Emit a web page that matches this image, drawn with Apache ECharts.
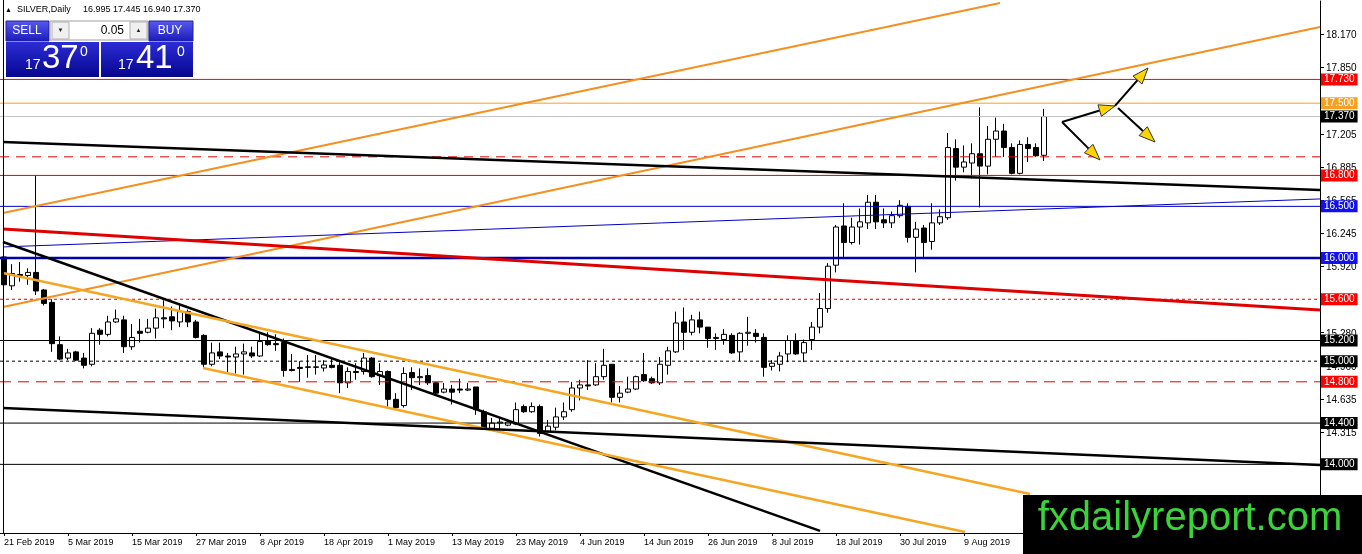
<!DOCTYPE html>
<html><head><meta charset="utf-8">
<script src="https://cdn.jsdelivr.net/npm/echarts@6/dist/echarts.min.js"></script>
<style>html,body{margin:0;padding:0;background:#fff}#c{width:1362px;height:554px}</style>
</head><body><div id="c"></div>
<script>
// ---- candle data (SILVER, Daily) ----
const opens = [
16.01,15.73,15.84,15.83,15.86,15.69,15.57,15.16,15.03,15.09,
15.03,14.97,15.30,15.26,15.38,15.40,15.14,15.29,15.28,15.32,
15.42,15.43,15.38,15.48,15.38,15.25,14.97,15.09,15.05,15.04,
15.07,15.08,15.05,15.20,15.17,15.18,14.92,14.94,14.945,14.94,
14.934,14.96,14.96,14.79,14.90,14.90,15.03,14.86,14.90,14.63,
14.57,14.89,14.84,14.86,14.79,14.70,14.73,14.73,14.72,14.75,
14.51,14.35,14.40,14.38,14.39,14.56,14.51,14.56,14.32,14.36,
14.46,14.53,14.74,14.77,14.77,14.85,14.97,14.65,14.70,14.73,
14.87,14.83,14.79,14.96,15.09,15.38,15.28,15.40,15.33,15.22,
15.21,15.25,15.09,15.27,15.27,15.23,14.95,14.97,15.07,15.20,
15.08,15.21,15.33,15.51,15.93,16.31,16.15,16.30,16.34,16.54,
16.37,16.34,16.41,16.50,16.20,16.29,16.16,16.34,16.39,17.06,
16.88,16.92,17.01,16.89,17.15,17.23,17.07,16.82,17.10,17.07,
16.995];
const highs = [
16.03,15.94,15.96,15.90,16.80,15.70,15.60,15.24,15.12,15.10,
15.08,15.32,15.32,15.44,15.50,15.44,15.36,15.41,15.41,15.51,
15.59,15.53,15.56,15.50,15.40,15.26,15.18,15.18,15.08,15.14,
15.17,15.14,15.27,15.28,15.26,15.22,15.07,15.00,15.06,15.06,
15.01,15.03,14.99,14.94,14.98,15.08,15.04,14.98,14.91,14.69,
14.94,14.94,14.93,14.93,14.80,14.79,14.77,14.83,14.79,14.75,
14.53,14.45,14.46,14.44,14.60,14.58,14.60,14.58,14.43,14.55,
14.60,14.80,14.82,15.01,14.98,15.12,14.97,14.76,14.85,14.86,
15.08,14.85,15.04,15.14,15.48,15.52,15.45,15.48,15.33,15.27,
15.31,15.27,15.28,15.43,15.31,15.27,15.01,15.09,15.25,15.27,
15.21,15.38,15.66,15.95,16.32,16.53,16.39,16.48,16.61,16.61,
16.48,16.45,16.56,16.53,16.35,16.32,16.53,16.47,17.21,17.15,
17.09,17.11,17.46,17.28,17.36,17.30,17.11,17.14,17.17,17.11,
17.445];
const lows = [
15.72,15.69,15.77,15.74,15.64,15.54,15.09,15.01,15.01,15.00,
14.93,14.95,15.16,15.24,15.37,15.08,15.11,15.18,15.27,15.22,
15.32,15.30,15.33,15.33,15.22,14.94,14.95,15.02,14.88,14.88,
14.87,15.03,15.04,15.15,15.10,14.85,14.90,14.80,14.84,14.87,
14.90,14.93,14.69,14.74,14.82,14.87,14.84,14.77,14.56,14.53,
14.55,14.72,14.77,14.77,14.68,14.69,14.58,14.69,14.71,14.48,
14.34,14.34,14.33,14.37,14.38,14.50,14.50,14.27,14.31,14.33,
14.43,14.51,14.62,14.72,14.76,14.82,14.60,14.60,14.69,14.72,
14.80,14.78,14.77,14.87,15.08,15.11,15.25,15.27,15.13,15.11,
15.16,15.07,15.00,15.15,15.18,14.85,14.91,14.90,14.99,15.06,
14.99,15.11,15.27,15.47,15.86,16.00,16.13,16.13,16.28,16.28,
16.29,16.29,16.39,16.15,15.86,15.99,16.08,16.32,16.37,16.75,
16.83,16.77,16.49,16.81,16.98,16.98,16.81,16.81,16.93,16.98,
16.94];
const closes = [
15.74,15.85,15.83,15.86,15.68,15.56,15.17,15.02,15.08,15.01,
14.96,15.27,15.26,15.38,15.41,15.14,15.23,15.27,15.32,15.42,
15.41,15.39,15.48,15.38,15.23,14.97,15.08,15.05,15.04,15.07,
15.09,15.05,15.19,15.16,15.16,14.91,14.91,14.93,14.94,14.945,
14.963,14.94,14.79,14.90,14.89,15.03,14.85,14.90,14.63,14.55,
14.88,14.84,14.85,14.79,14.69,14.73,14.70,14.72,14.73,14.53,
14.35,14.40,14.41,14.41,14.53,14.51,14.56,14.30,14.37,14.46,
14.51,14.74,14.77,14.76,14.85,14.96,14.65,14.69,14.73,14.85,
14.81,14.79,14.97,15.10,15.37,15.28,15.40,15.33,15.22,15.23,
15.26,15.08,15.27,15.28,15.24,14.94,14.98,15.05,15.20,15.07,
15.18,15.33,15.51,15.92,16.30,16.15,16.30,16.35,16.54,16.35,
16.34,16.41,16.51,16.20,16.28,16.15,16.34,16.40,17.07,16.88,
16.93,17.01,16.89,17.15,17.23,17.07,16.82,17.10,17.06,16.99,
17.37];

// x tick labels, one every 8 bars starting at bar 0
const dateTicks = ['21 Feb 2019','5 Mar 2019','15 Mar 2019','27 Mar 2019','8 Apr 2019','18 Apr 2019',
  '1 May 2019','13 May 2019','23 May 2019','4 Jun 2019','14 Jun 2019','26 Jun 2019','8 Jul 2019',
  '18 Jul 2019','30 Jul 2019','9 Aug 2019'];
const barSlots = 165; // bars + empty space to the right
// price scale tick labels (visible ones)
const priceTicks = [18.170,17.850,17.205,16.885,16.565,16.245,15.920,15.600,15.280,14.960,14.635,14.315,13.990,13.670];
const priceMin = 13.335, priceMax = 18.490;

// horizontal levels
const levels = [17.73, 17.50, 17.37, 16.98, 16.80, 16.50, 16.00, 15.60, 15.20, 15.00, 14.80, 14.40, 14.00];
// trend lines: [[bar, price],[bar, price]]
const trendA = [[-0.125,16.436],[124.5,18.471]];
const trendB = [[-0.125,15.525],[164.5,18.238]];
const trendC = [[-0.125,17.124],[164.5,16.659]];
const trendD = [[-0.125,16.107],[164.5,16.572]];
const trendE = [[-0.125,16.281],[164.5,15.496]];
const trendF = [[-0.125,16.155],[102,13.355]];
const trendG = [[-0.125,15.855],[128.25,13.713]];
const trendH = [[24.875,14.934],[120.125,13.345]];
const trendI = [[-0.125,14.547],[164.5,13.994]];
// arrows: [barFrom, priceFrom, barTo, priceTo]
const arrows = [
  [132.25,17.318,138.875,17.473],
  [138.875,17.473,143.0,17.841],
  [139.25,17.453,143.875,17.124],
  [132.25,17.318,137.0,16.950]
];
// header / trade panel texts
const symbolName = 'SILVER,Daily';
const lastOHLC = ['16.995','17.445','16.940','17.370'];
const lotSize = '0.05';
const bidParts = ['17','37','0'];
const askParts = ['17','41','0'];
const watermark = 'fxdailyreport.com';

// ---- styles ----
const RED = '#ff0000', BLK = '#000000';
const levelStyles = [
  {c:'#ff0000', t:'solid', w:1, box:RED},
  {c:'#f5a020', t:'solid', w:1, box:'#f5a020'},
  {c:'#c0c0c0', t:'solid', w:1, box:BLK},
  {c:'#e00000', t:[9,7], w:1, box:null},
  {c:'#e80000', t:'solid', w:1, box:RED},
  {c:'#0000c8', t:'solid', w:1, box:'#1010f0'},
  {c:'#0000b0', t:'solid', w:2.5, box:'#1010f0'},
  {c:'#e00000', t:[3,3], w:1, box:RED},
  {c:BLK, t:'solid', w:1, box:BLK},
  {c:BLK, t:[3,3], w:1, box:BLK},
  {c:'#e00000', t:[11,7], w:1, box:RED},
  {c:BLK, t:'solid', w:1, box:BLK},
  {c:BLK, t:'solid', w:1, box:BLK}
];
const trendDefs = [
  [trendA,'#f39020',2],[trendB,'#f39020',2],[trendC,'#000',2.5],[trendD,'#0000c0',1],
  [trendE,'#e00000',3],[trendF,'#000',2.5],[trendG,'#f5a623',2.5],[trendH,'#f5a623',2.5],[trendI,'#000',2.5]
];

const cats = Array.from({length: barSlots}, (_, i) => String(i));
const candles = opens.map((o, i) => [o, closes[i], lows[i], highs[i]]);
const FONT = 'Liberation Sans';
const xFirst = -0.5, xLast = barSlots - 0.5;

const chart = echarts.init(document.getElementById('c'), null, {renderer: 'canvas'});

const series = [
  {
    type: 'candlestick', xAxisIndex: 0, yAxisIndex: 0, data: candles, barWidth: 5, z: 3,
    itemStyle: {color: '#fff', color0: '#000', borderColor: '#000', borderColor0: '#000', borderWidth: 1}
  }
];
levels.forEach((v, i) => {
  const s = levelStyles[i];
  series.push({
    type: 'line', xAxisIndex: 1, yAxisIndex: 0, data: [[xFirst, v], [xLast, v]], symbol: 'none', z: 4, silent: true,
    color: s.c, lineStyle: {color: s.c, type: s.t, width: s.w},
    endLabel: s.box ? {show: true, distance: 1, formatter: () => v.toFixed(3),
      backgroundColor: s.box, color: '#fff', fontSize: 10, fontFamily: FONT, padding: [1, 3, 1, 3]} : {show: false}
  });
});
trendDefs.forEach(d => {
  series.push({type: 'line', xAxisIndex: 1, yAxisIndex: 0, data: d[0], symbol: 'none', clip: true, z: 5,
    silent: true, color: d[1], lineStyle: {color: d[1], width: d[2]}});
});
// price scale: tick marks and labels on the right edge, placed by the y scale
series.push({
  type: 'custom', xAxisIndex: 1, yAxisIndex: 0, data: priceTicks.map(v => [xLast, v]), z: 2, silent: true, clip: false,
  renderItem(params, api) {
    const v = api.value(1);
    const p = api.coord([api.value(0), v]);
    const y = Math.round(p[1]) + 0.5;
    return {type: 'group', children: [
      {type: 'line', shape: {x1: p[0], y1: y, x2: p[0] + 4, y2: y}, style: {stroke: '#000', lineWidth: 1}},
      {type: 'text', x: p[0] + 6, y: p[1] + 1.5, style: {text: v.toFixed(3), fill: '#000', font: '10px "' + FONT + '"',
        textAlign: 'left', textVerticalAlign: 'middle'}}
    ]};
  }
});
series.push({
  type: 'custom', xAxisIndex: 1, yAxisIndex: 0, data: arrows, z: 6, silent: true, clip: false,
  encode: {x: [0, 2], y: [1, 3]},
  renderItem(params, api) {
    const p1 = api.coord([api.value(0), api.value(1)]);
    const p2 = api.coord([api.value(2), api.value(3)]);
    const dx = p2[0] - p1[0], dy = p2[1] - p1[1], L = Math.hypot(dx, dy);
    const ux = dx / L, uy = dy / L, hl = 16, hw = 6;
    const bx = p2[0] - ux * hl, by = p2[1] - uy * hl;
    return {type: 'group', children: [
      {type: 'line', shape: {x1: p1[0], y1: p1[1], x2: bx, y2: by}, style: {stroke: '#000', lineWidth: 2}},
      {type: 'polygon', shape: {points: [[p2[0], p2[1]], [bx - uy * hw, by + ux * hw], [bx + uy * hw, by - ux * hw]]},
        style: {fill: '#ffd400', stroke: '#333', lineWidth: 1}}
    ]};
  }
});

const btnGrad = {type: 'linear', x: 0, y: 0, x2: 0, y2: 1, colorStops: [{offset: 0, color: '#5a5af2'}, {offset: 1, color: '#1a1ab8'}]};
const boxGrad = {type: 'linear', x: 0, y: 0, x2: 0, y2: 1, colorStops: [{offset: 0, color: '#2c2cd6'}, {offset: 1, color: '#06068e'}]};
const Z = 100;
const txt = (x, y, text, size, color, align) => ({type: 'text', z: Z, x, y,
  style: {text, fill: color, font: size + 'px "' + FONT + '"', textAlign: align || 'left', textVerticalAlign: 'middle'}});

const graphics = [
  {type: 'line', z: Z, shape: {x1: 3.5, y1: 0, x2: 3.5, y2: 533}, style: {stroke: '#000', lineWidth: 1}},
  txt(5, 10, '\u25B2', 7, '#000'),
  txt(17, 10, symbolName, 9, '#000'),
  txt(83, 10, lastOHLC.join(' '), 9, '#000'),
  // sell button
  {type: 'rect', z: Z, shape: {x: 6, y: 21, width: 43, height: 20}, style: {fill: btnGrad, stroke: '#2020a0', lineWidth: 1}},
  txt(27, 31, 'SELL', 12, '#fff', 'center'),
  // lot box
  {type: 'rect', z: Z, shape: {x: 50, y: 21, width: 98, height: 19}, style: {fill: '#fff', stroke: '#a0a0a0', lineWidth: 1}},
  {type: 'rect', z: Z, shape: {x: 52, y: 22, width: 17, height: 17}, style: {fill: '#f0f0f0', stroke: '#b0b0b0', lineWidth: 1}},
  {type: 'rect', z: Z, shape: {x: 130, y: 22, width: 17, height: 17}, style: {fill: '#f0f0f0', stroke: '#b0b0b0', lineWidth: 1}},
  txt(60.5, 30.5, '\u25BC', 6, '#222', 'center'),
  txt(138.5, 30.5, '\u25B2', 6, '#222', 'center'),
  txt(124, 30.5, lotSize, 12, '#000', 'right'),
  // buy button
  {type: 'rect', z: Z, shape: {x: 149, y: 21, width: 44, height: 20}, style: {fill: btnGrad, stroke: '#2020a0', lineWidth: 1}},
  txt(170, 31, 'BUY', 12, '#fff', 'center'),
  // big price boxes
  {type: 'rect', z: Z, shape: {x: 6, y: 42, width: 93, height: 35}, style: {fill: boxGrad}},
  {type: 'rect', z: Z, shape: {x: 101, y: 42, width: 92, height: 35}, style: {fill: boxGrad}},
  txt(25, 65, bidParts[0], 14, '#fff'),
  txt(42, 59, bidParts[1], 33, '#fff'),
  txt(80, 52, bidParts[2], 14, '#fff'),
  txt(118, 65, askParts[0], 14, '#fff'),
  txt(136, 59, askParts[1], 33, '#fff'),
  txt(177, 52, askParts[2], 14, '#fff'),
  // watermark
  {type: 'rect', z: Z, shape: {x: 1023, y: 495, width: 339, height: 59}, style: {fill: '#000'}},
  txt(1190, 519, watermark, 40, '#3ad43a', 'center')
];

chart.setOption({
  animation: false,
  textStyle: {fontFamily: FONT},
  grid: {left: 0, right: 42, top: 1, bottom: 21, show: false},
  xAxis: [
    {
      type: 'category', data: cats, boundaryGap: true,
      axisLine: {show: true, onZero: false, lineStyle: {color: '#000', width: 1}},
      axisTick: {show: true, alignWithLabel: true, length: 3, interval: (i) => i % 8 === 0 && i / 8 < dateTicks.length, lineStyle: {color: '#000'}},
      axisLabel: {
        show: true, interval: (i) => i % 8 === 0 && i / 8 < dateTicks.length,
        formatter: (v) => dateTicks[Number(v) / 8] || '', align: 'left', fontSize: 9, color: '#000', margin: 5, fontFamily: FONT
      },
      splitLine: {show: false}
    },
    {type: 'value', min: xFirst, max: xLast, show: false,
      axisLine: {show: false, onZero: false}, axisTick: {show: false}, axisLabel: {show: false}, splitLine: {show: false}}
  ],
  yAxis: [{
    type: 'value', position: 'right', min: priceMin, max: priceMax, scale: true,
    axisLine: {show: true, onZero: false, lineStyle: {color: '#000', width: 1}},
    axisTick: {show: false},
    minorTick: {show: false},
    axisLabel: {show: false},
    splitLine: {show: false}
  }],
  series,
  graphic: {elements: graphics}
});
</script></body></html>
